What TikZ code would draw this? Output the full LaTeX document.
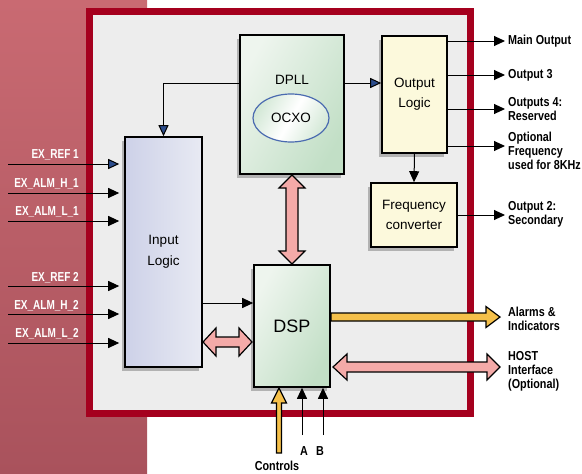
\documentclass[tikz,border=0pt]{standalone}
\usepackage{fontspec}
\setmainfont{Liberation Sans}
\newfontfamily\narrowbold{Liberation Sans Bold}[FakeStretch=0.83]
\newfontfamily\narrowboldx{Liberation Sans Bold}[FakeStretch=0.77]
\usetikzlibrary{arrows.meta,shadows,calc,shapes.geometric}
\definecolor{bgred}{HTML}{C96A72}
\definecolor{bgredd}{HTML}{A9525C}
\definecolor{framec}{HTML}{A5001E}
\definecolor{innerc}{HTML}{EDEDED}
\definecolor{greenA}{HTML}{EEF5EE}
\definecolor{greenB}{HTML}{C2DFC6}
\definecolor{yelbox}{HTML}{FCF9DC}
\definecolor{blueA}{HTML}{CDD1E8}
\definecolor{blueB}{HTML}{E8EAF3}
\definecolor{pinkc}{HTML}{F4AAA8}
\definecolor{yelc}{HTML}{F5C04A}
\definecolor{tipblue}{HTML}{2B4C8C}
\definecolor{ellc}{HTML}{4A6AB0}
\tikzset{
  boxbase/.style={draw=black, line width=1.6pt, inner sep=0pt, align=center,
    font=\fontsize{13.5}{20}\selectfont,
    drop shadow={shadow xshift=-3pt, shadow yshift=-4pt, fill=black!30, opacity=1}},
  greenbox/.style={boxbase, left color=greenA, right color=greenB, shading angle=60},
  yelbox/.style={boxbase, fill=yelbox},
  bluebox/.style={boxbase, left color=blueA, right color=blueB},
  arr/.style={line width=1pt, -{Triangle[length=11pt,width=10pt]}},
  arrb/.style={line width=1pt, -{Triangle[length=11pt,width=10pt,fill=tipblue]}},
  lbl/.style={font=\narrowbold\fontsize{13}{14}\selectfont, align=left, inner sep=1pt},
  exl/.style={font=\narrowboldx\fontsize{13}{14}\selectfont, text=white, inner sep=0pt},
  fat/.style={draw=black, line width=1.2pt, line join=miter},
}
\begin{document}
\begin{tikzpicture}[x=1pt,y=-1pt]
\useasboundingbox (0,0) rectangle (582,474);
% background
\fill[top color=bgred, bottom color=bgredd] (0,0) rectangle (147,474);
\fill[innerc] (89,11) rectangle (470,413);
\draw[framec, line width=7pt] (89,11) rectangle (470,413);

% blocks
\node[greenbox, minimum width=104pt, minimum height=139pt] (dpll) at (292,104.5) {};
\node[font=\fontsize{13.5}{16}\selectfont] (dplltxt) at (292,80) {DPLL};
\node[ellipse, draw=ellc, line width=1.2pt, minimum width=76pt, minimum height=48pt,
  left color=greenB!70, right color=greenB!70, middle color=white, shading angle=60,
  font=\fontsize{13.5}{16}\selectfont] (ocxo) at (291,118) {OCXO};
\node[yelbox, minimum width=65pt, minimum height=117pt] (ol) at (414.5,94.5) {Output\\Logic};
\node[yelbox, minimum width=86pt, minimum height=64pt] (fc) at (414,215) {Frequency\\converter};
\node[bluebox, minimum width=77pt, minimum height=230pt, font=\fontsize{13.5}{21}\selectfont] (il) at (163.5,252) {Input\\Logic};
\node[greenbox, minimum width=76pt, minimum height=122pt, font=\fontsize{18}{20}\selectfont] (dsp) at (292,326) {DSP};

% internal connectors
\draw[arrb] (dpll.east |- 0,83) -- (ol.west |- 0,83);
\draw[arrb] (dpll.west |- 0,83) -| (il.north);
\draw[arr] (ol.south) -- (fc.north);
\draw[arr] (il.east |- 0,303) -- (dsp.west |- 0,303);

% fat arrows
\draw[fat, fill=pinkc] (292,175) -- (305,188) -- (298,188) -- (298,251) -- (305,251) -- (292,264)
  -- (279,251) -- (286,251) -- (286,188) -- (279,188) -- cycle;
\draw[fat, fill=pinkc] (203,342) -- (216,328) -- (216,337) -- (239,337) -- (239,328) -- (252,342)
  -- (239,356) -- (239,347) -- (216,347) -- (216,356) -- cycle;
\draw[fat, fill=pinkc] (333,367) -- (347,354) -- (347,362) -- (487,362) -- (487,354) -- (500,367)
  -- (487,380) -- (487,372) -- (347,372) -- (347,380) -- cycle;
\draw[fat, fill=yelc] (331,313) -- (486,313) -- (486,306.5) -- (500,317) -- (486,327.5) -- (486,321)
  -- (331,321) -- cycle;
\draw[fat, fill=yelc] (279,388) -- (286.5,403) -- (281.5,403) -- (281.5,453) -- (276.5,453)
  -- (276.5,403) -- (271.5,403) -- cycle;

% outputs
\coordinate (t1) at (505,41);
\coordinate (t2) at (505,75);
\coordinate (t3) at (505,109);
\coordinate (t4) at (505,146);
\coordinate (t5) at (505,215);
\draw[arr] (ol.east |- t1) -- (t1);
\draw[arr] (ol.east |- t2) -- (t2);
\draw[arr] (ol.east |- t3) -- (t3);
\draw[arr] (ol.east |- t4) -- (t4);
\draw[arr] (fc.east |- t5) -- (t5);
\node[lbl, anchor=west] (l1) at (507,41) {Main Output};
\node[lbl, anchor=west] (l2) at (507,75) {Output 3};
\node[lbl, anchor=west] (l3) at (507,109) {Outputs 4:\\Reserved};
\node[lbl, anchor=west] (l4) at (507,151) {Optional\\Frequency\\used for 8KHz};
\node[lbl, anchor=west] (l5) at (507,214.5) {Output 2:\\Secondary};
\node[lbl, anchor=west] (l6) at (507,319) {Alarms \&\\Indicators};
\node[lbl, anchor=west] (l7) at (507,371) {HOST\\Interface\\(Optional)};

% controls
\coordinate (ca) at (302,435);
\coordinate (cb) at (323,435);
\draw[arr] (ca) -- (dsp.south -| ca);
\draw[arr] (cb) -- (dsp.south -| cb);
\node[lbl] (la) at (304,451) {A};
\node[lbl] (lb) at (320,451) {B};
\node[lbl] (lc) at (277,466) {Controls};

% inputs
\coordinate (s1) at (8,164);
\coordinate (s2) at (8,193);
\coordinate (s3) at (8,221);
\coordinate (s4) at (8,286);
\coordinate (s5) at (8,314);
\coordinate (s6) at (8,343);
\draw[arrb, shorten >=5pt] (s1) -- (il.west |- s1);
\draw[arr, shorten >=5pt] (s2) -- (il.west |- s2);
\draw[arr, shorten >=5pt] (s3) -- (il.west |- s3);
\draw[arr, shorten >=5pt] (s4) -- (il.west |- s4);
\draw[arr, shorten >=5pt] (s5) -- (il.west |- s5);
\draw[arr, shorten >=5pt] (s6) -- (il.west |- s6);
\node[exl, anchor=east] (e1) at (79,155) {EX\_REF 1};
\node[exl, anchor=east] (e2) at (79,184) {EX\_ALM\_H\_1};
\node[exl, anchor=east] (e3) at (79,212) {EX\_ALM\_L\_1};
\node[exl, anchor=east] (e4) at (79,278) {EX\_REF 2};
\node[exl, anchor=east] (e5) at (79,306) {EX\_ALM\_H\_2};
\node[exl, anchor=east] (e6) at (79,334) {EX\_ALM\_L\_2};
\end{tikzpicture}
\end{document}
